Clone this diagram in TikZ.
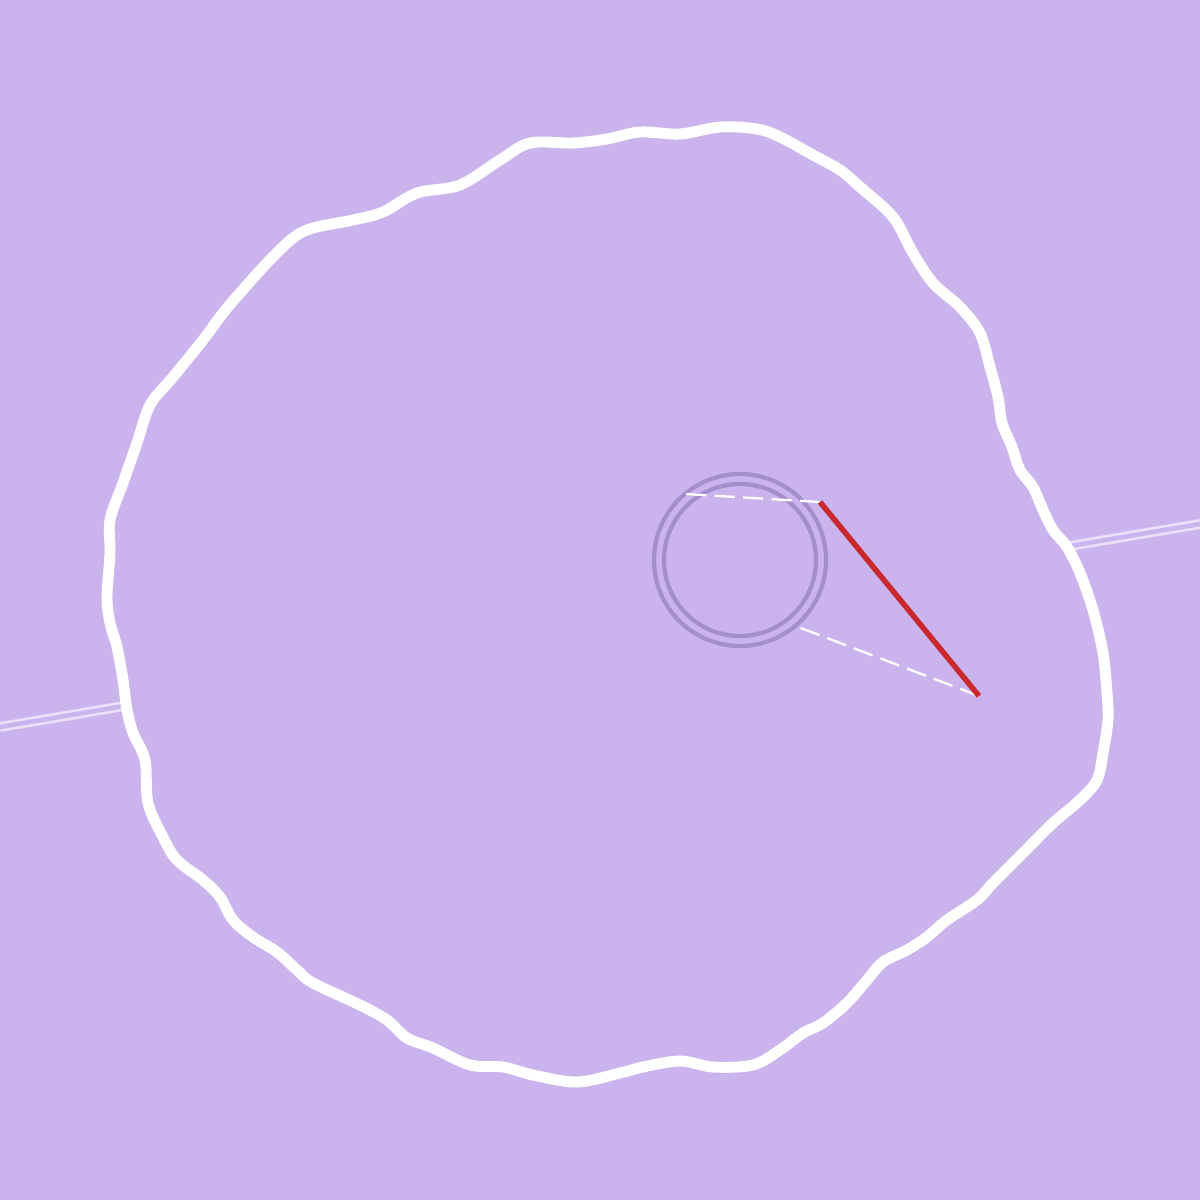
\documentclass[tikz,border=0pt]{standalone}
\usepackage{tikz}
\usetikzlibrary{calc}
\definecolor{bgcol}{RGB}{203,180,238}
\definecolor{ringcol}{RGB}{164,143,204}
\definecolor{redcol}{RGB}{200,40,46}

\begin{document}
\begin{tikzpicture}[x={(0.01cm,0)},y={(0,-0.01cm)},
  rim/.style={draw=white,line width=3.1pt,line join=round,fill=bgcol},
  rail/.style={draw=bgcol!40!white,line width=0.75pt,double=bgcol,double distance=1.3pt},
  ring/.style={draw=ringcol,line width=1.2pt},
  guide/.style={draw=white,line width=0.65pt,dash pattern=on 5.7pt off 2.4pt},
  bar/.style={draw=redcol,line width=1.55pt}]
% Background
\fill[bgcol] (0,0) rectangle (1200,1200);
\useasboundingbox (0,0) rectangle (1200,1200);
% Rail across the picture
\coordinate (railW) at (0,727);
\coordinate (railE) at (1200,524);
\draw[rail] (railW) -- (railE);
% Wavy outline
\path[rim] plot[smooth cycle,tension=0.55] coordinates {
  (530,143) (573,143) (607,139) (640,132) (680,134) (720,127) (757,129)
  (780,137) (813,155) (840,170) (860,187) (893,217) (913,253) (933,283)
  (960,307) (980,333) (990,367) (998,397) (1002,423) (1012,447) (1020,470)
  (1033,487) (1043,510) (1053,530) (1067,547) (1080,573) (1093,610)
  (1103,653) (1107,693) (1108,720) (1103,753) (1097,780) (1080,800)
  (1053,823) (1023,853) (993,883) (977,900) (947,920) (927,937) (907,950)
  (883,962) (867,980) (847,1003) (823,1023) (803,1033) (780,1050)
  (753,1065) (713,1067) (680,1061) (643,1067) (620,1073) (577,1082)
  (533,1075) (503,1067) (470,1065) (433,1048) (407,1038) (387,1020)
  (360,1005) (313,983) (297,970) (277,952) (253,937) (233,920) (220,897)
  (203,880) (177,860) (163,837) (148,803) (145,760) (133,733) (127,710)
  (123,680) (117,647) (110,623) (107,597) (110,553) (110,520) (123,483)
  (137,443) (150,405) (173,377) (203,340) (223,313) (240,293) (267,263)
  (293,238) (313,228) (353,220) (383,212) (417,193) (460,185) (500,160)};
% Double ring
\coordinate (hub) at (740,560);
\draw[ring] (hub) circle[radius=86];
\draw[ring] (hub) circle[radius=76];
% Guides and red segment
\coordinate (tipA) at (820,502);
\coordinate (tipB) at (979,696);
\coordinate (touchA) at (685,494);
\coordinate (touchB) at (793,625);
\draw[guide] (tipA) -- (touchA);
\draw[guide] (tipB) -- (touchB);
\draw[bar] (tipA) -- (tipB);
\end{tikzpicture}
\end{document}
